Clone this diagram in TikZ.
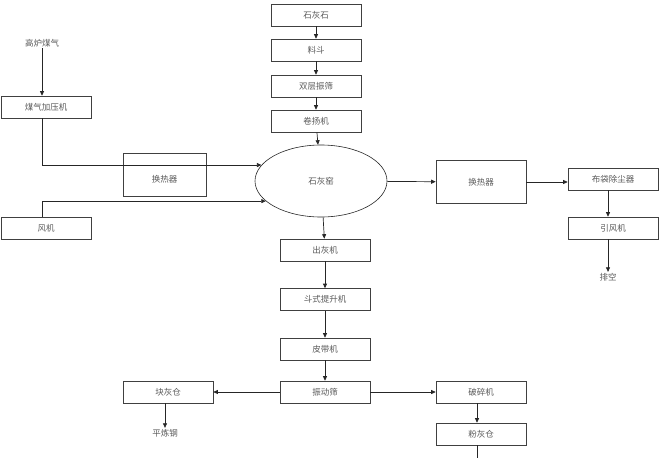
\documentclass[tikz,border=0pt]{standalone}
\usepackage{fontspec}
\newfontfamily\cjk{Noto Sans CJK SC}
\usetikzlibrary{arrows.meta,shapes.geometric}

\begin{document}
\begin{tikzpicture}[
    x=1pt,
    y=-1pt,
    >={Triangle[length=4.5pt,width=4pt]},
    font=\cjk\fontsize{8.5}{10}\selectfont,
    box/.style={draw=black!75, line width=0.6pt, text=black!65, minimum width=90pt, minimum height=22pt, inner sep=1pt},
    bigbox/.style={box, minimum height=43pt},
    kilnshape/.style={ellipse, draw=black!85, line width=0.6pt, text=black!65, minimum width=132pt, minimum height=72pt, inner sep=0pt},
    tag/.style={text=black!65, inner sep=1pt},
    flow/.style={draw=black!85, line width=0.7pt, ->},
    pipe/.style={draw=black!85, line width=0.7pt},
  ]

  \def\feedX{316}
  \def\outX{325}
  \def\screenY{392}

  % Bounding box
  \useasboundingbox (0,0) rectangle (660,458);

  % Feed column above the kiln
  \foreach \name/\txt/\y in {stone/石灰石/15, hopper/料斗/50, sieve/双层振筛/86, hoist/卷扬机/121} {
    \node[box] (\name) at (\feedX,\y) {\txt};
  }
  \node[kilnshape] (kiln) at (321,181) {石灰窑};

  % Gas and air side
  \node[tag] (gas) at (42,43) {高炉煤气};
  \node[box] (gasfan) at (46,107) {煤气加压机};
  \node[bigbox, minimum width=83pt] (hxl) at (164.5,174.5) {};
  \node[tag] at (164.5,179) {换热器};
  \node[box] (fan) at (46,228) {风机};

  % Flue gas side
  \node[bigbox] (hxr) at (481,182) {换热器};
  \node[box] (bag) at (613,179) {布袋除尘器};
  \node[box] (idf) at (613,228) {引风机};
  \node[tag] (vent) at (608,277) {排空};

  % Discharge column below the kiln
  \foreach \name/\txt/\y in {discharge/出灰机/250, bucket/斗式提升机/299.5, belt/皮带机/349, vib/振动筛/\screenY} {
    \node[box] (\name) at (\outX,\y) {\txt};
  }
  \node[box] (lump) at (168,\screenY) {块灰仓};
  \node[tag] (steel) at (165,433) {平炼钢};
  \node[box] (crusher) at (481,\screenY) {破碎机};
  \node[box] (powder) at (481,434) {粉灰仓};
  \coordinate (powderout) at (477,458);

  % Feed arrows
  \draw[flow] (stone) -- (hopper);
  \draw[flow] (hopper) -- (sieve);
  \draw[flow] (sieve) -- (hoist);
  \draw[flow] (hoist) -- (kiln);

  % Gas and air lines into the kiln
  \draw[flow] (gas) -- (gasfan.north -| gas);
  \draw[flow] (gasfan.south -| gas) |- (kiln.165);
  \draw[flow] (fan.north -| gas) |- (kiln.200);

  % Flue gas path
  \draw[flow] (kiln) -- (hxr);
  \draw[flow] (hxr.east) -- (hxr.east -| bag.west);
  \draw[flow] (bag.south -| vent) -- (idf.north -| vent);
  \draw[flow] (idf.south -| vent) -- (vent);

  % Lime path
  \draw[flow] (kiln) -- (discharge);
  \draw[flow] (discharge) -- (bucket);
  \draw[flow] (bucket) -- (belt);
  \draw[flow] (belt) -- (vib);
  \draw[flow] (vib) -- (lump);
  \draw[flow] (vib) -- (crusher);
  \draw[flow] (lump.south -| steel) -- (steel);
  \draw[flow] (crusher.south -| powderout) -- (powder.north -| powderout);
  \draw[pipe] (powder.south -| powderout) -- (powderout);
\end{tikzpicture}
\end{document}
